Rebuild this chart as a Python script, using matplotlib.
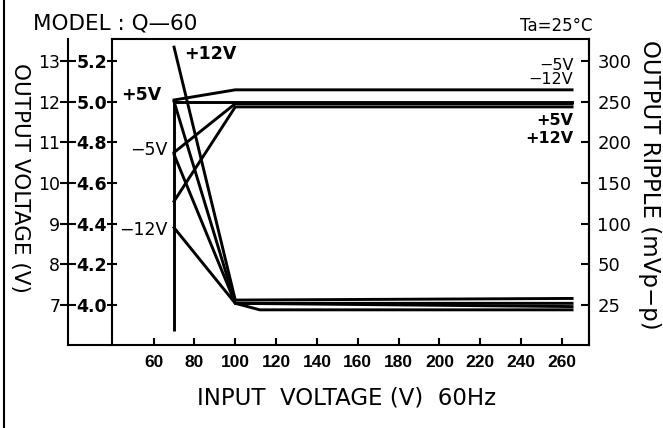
import numpy as np
import matplotlib.pyplot as plt
from matplotlib.lines import Line2D
from matplotlib.ticker import FormatStrFormatter

# input voltage (V)
vin = [70, 100, 265]
vin_b = [70, 100, 112, 265]

# output voltage curves
out_p5 = [5.00, 5.00, 5.00]      # 5V scale
out_m5 = [4.75, 4.99, 4.99]      # 5V scale
out_p12 = [12.04, 12.29, 12.29]  # 12V scale
out_m12 = [9.55, 11.87, 11.87]   # 12V scale
start_x = [70, 70]
start_y = [3.87, 5.00]

# output ripple (mVp-p)
rip_p12 = [317, 28, 29]
rip_p5 = [250, 26, 26]
rip_m5 = [185, 26, 22, 22]
rip_m12 = [95, 26, 24]

x_ticks = [60, 80, 100, 120, 140, 160, 180, 200, 220, 240, 260]
v5_ticks = [4.0, 4.2, 4.4, 4.6, 4.8, 5.0, 5.2]
v12_ticks = [7, 8, 9, 10, 11, 12, 13]
rip_ticks = [25, 50, 100, 150, 200, 250, 300]

# ripple axis is not linear: 25,50,100.. sit on the same grid as the voltage ticks
rv = np.array([0] + rip_ticks + [1000], dtype=float)
pp = np.array([3.8] + v5_ticks + [5.2 + 700 / 50 * 0.2])
fwd = lambda r: np.interp(r, rv, pp)
inv = lambda p: np.interp(p, pp, rv)

W, H = 663, 428
fig = plt.figure(figsize=(W / 100, H / 100), dpi=100)
ax = fig.add_axes([112 / W, 1 - 345 / H, 477 / W, 306 / H])
ylo, yhi = 3.803, 5.308
ax.set_xlim(39.6, 273.3)
ax.set_ylim(ylo, yhi)
lw = 2.1

ax12 = ax.twinx()
ax12.set_ylim(5 * ylo - 13, 5 * yhi - 13)
axr = ax.twinx()
axr.set_yscale('function', functions=(fwd, inv))
axr.set_ylim(inv(ylo), inv(yhi))

# curves
ax.plot(vin, out_p5, color='k', lw=lw)
ax.plot(vin, out_m5, color='k', lw=lw)
ax.plot(start_x, start_y, color='k', lw=lw, solid_capstyle='butt')
ax12.plot(vin, out_p12, color='k', lw=lw)
ax12.plot(vin, out_m12, color='k', lw=lw)
axr.plot(vin, rip_p12, color='k', lw=lw)
axr.plot(vin, rip_p5, color='k', lw=lw)
axr.plot(vin_b, rip_m5, color='k', lw=lw)
axr.plot(vin, rip_m12, color='k', lw=lw)

# spines / ticks
for s in ax.spines.values():
    s.set_linewidth(1.5)
for a in (ax12, axr):
    for s in a.spines.values():
        s.set_visible(False)
        s.set_linewidth(1.5)
ax.spines['right'].set_visible(True)

ax.set_xticks(x_ticks)
ax.tick_params(axis='x', direction='in', length=5, width=1.5, pad=7)
for t in ax.get_xticklabels():
    t.set_fontfamily('Liberation Sans')
    t.set_fontweight('bold')
    t.set_fontsize(12.5)

ax.set_yticks(v5_ticks)
ax.yaxis.set_major_formatter(FormatStrFormatter('%.1f'))
ax.tick_params(axis='y', direction='inout', length=7, width=1.5, pad=0,
               labelsize=12.5)
for t in ax.get_yticklabels():
    t.set_fontweight('bold')

ax12.spines['left'].set_visible(True)
ax12.spines['left'].set_position(('outward', 44 * 0.72))
ax12.yaxis.set_ticks_position('left')
ax12.set_yticks(v12_ticks)
ax12.tick_params(axis='y', direction='inout', length=11, width=1.5, pad=0,
                 labelsize=12.5, left=True, right=False,
                 labelleft=True, labelright=False)

axr.spines['right'].set_visible(True)
axr.set_yticks(rip_ticks)
axr.set_yticklabels([str(v) for v in rip_ticks])
axr.yaxis.set_minor_locator(plt.NullLocator())
axr.tick_params(axis='y', direction='in', length=6, width=1.5, pad=6,
                labelsize=13)

# bottom line under the two voltage scales
ax.plot([-44 / 477, 0], [0, 0], transform=ax.transAxes, clip_on=False,
        color='k', lw=1.5, solid_capstyle='butt')
fig.add_artist(Line2D([4 / W, 4 / W], [0, 1], color='k', lw=1.5))

# curve labels
ax.text(88, 5.235, '+12V', ha='center', va='center', fontsize=12.5, fontweight='bold')
ax.text(53.8, 5.033, '+5V', ha='center', va='center', fontsize=12.5, fontweight='bold')
ax.text(57.7, 4.762, '\u22125V', ha='center', va='center', fontsize=12.5)
ax.text(54.8, 4.369, '\u221212V', ha='center', va='center', fontsize=12.5)
ax.text(265.6, 5.180, '\u22125V', ha='right', va='center', fontsize=11.5)
ax.text(265.6, 5.108, '\u221212V', ha='right', va='center', fontsize=11.5)
ax.text(265.6, 4.905, '+5V', ha='right', va='center', fontsize=11.5, fontweight='bold')
ax.text(265.6, 4.817, '+12V', ha='right', va='center', fontsize=11.5, fontweight='bold')

fig.text(33 / W, 1 - 23 / H, 'MODEL : Q\u201460', ha='left', va='center', fontsize=15.5)
fig.text(592 / W, 1 - 31 / H, 'Ta=25\u00b0C', ha='right', va='baseline', fontsize=12)
fig.text(20 / W, 1 - 178 / H, 'OUTPUT VOLTAGE (V)', rotation=270,
         ha='center', va='center', fontsize=15.5)
fig.text(650 / W, 1 - 185 / H, 'OUTPUT RIPPLE (mVp\u2212p)', rotation=270,
         ha='center', va='center', fontsize=16.5)
fig.text(347 / W, 1 - 398 / H, 'INPUT  VOLTAGE (V)  60Hz',
         ha='center', va='center', fontsize=16.5)

fig.savefig('out.png', dpi=100)
